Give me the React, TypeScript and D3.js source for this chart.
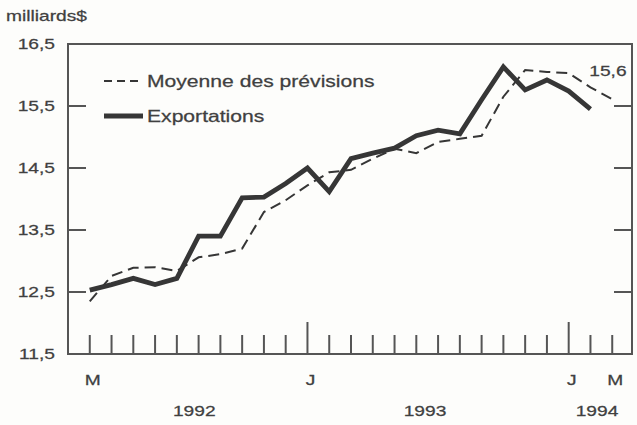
import React from "react";
import * as d3 from "d3";

// Month index 0 = March 1992 ... 24 = March 1994
const forecastAvg = [
  12.35, 12.76, 12.89, 12.9, 12.84, 13.06, 13.11, 13.2, 13.79, 13.98, 14.22,
  14.43, 14.47, 14.65, 14.81, 14.74, 14.92, 14.97, 15.02, 15.65, 16.08, 16.05,
  16.03, 15.8, 15.61,
];
const exports_ = [
  12.53, 12.62, 12.72, 12.62, 12.72, 13.4, 13.4, 14.02, 14.03, 14.25, 14.5,
  14.12, 14.65, 14.74, 14.82, 15.02, 15.11, 15.05, 15.6, 16.13, 15.76, 15.92,
  15.74, 15.45,
];
const yTicks = [16.5, 15.5, 14.5, 13.5, 12.5, 11.5];
const yTickLabels = ["16,5", "15,5", "14,5", "13,5", "12,5", "11,5"];
const innerYTicks = [15.5, 14.5, 13.5, 12.5];
const monthTickCount = 25;
const januaryIdx = [10, 22];
const monthLabels = [
  { i: 0, label: "M" },
  { i: 10, label: "J" },
  { i: 22, label: "J" },
  { i: 24, label: "M" },
];
const yearLabels = [
  { i: 4.8, label: "1992" },
  { i: 15.4, label: "1993" },
  { i: 23.3, label: "1994" },
];
const endLabel = { i: 23.8, v: 15.6, label: "15,6" };
const legendItems = ["Moyenne des prévisions", "Exportations"];
const unitLabel = "milliards$";

const W = 637;
const H = 425;
const L = 68, R = 632, T = 44, B = 354;
const SX = 1.28;
const FONT = "'Liberation Sans', Arial, Helvetica, sans-serif";
const INK = "#363636";
const TXT = "#404040";

function Txt({ x, y, anchor = "start", size = 15, children }: any) {
  return (
    <text
      transform={`translate(${x},${y}) scale(${SX},1)`}
      textAnchor={anchor}
      fontSize={size}
      fontFamily={FONT}
      fill={TXT}
      stroke={TXT}
      strokeWidth={0.25}
    >
      {children}
    </text>
  );
}

export default function App() {
  const x = d3.scaleLinear().domain([-1, 25]).range([L, 634]);
  const y = d3.scaleLinear().domain([11.5, 16.5]).range([B, T]);
  const line = d3
    .line<number>()
    .x((_, i) => x(i))
    .y((d) => y(d))
    .curve(d3.curveLinear);

  const months = d3.range(monthTickCount);

  return (
    <svg
      width={W}
      height={H}
      style={{ position: "absolute", left: 0, top: 0, background: "#fdfdfb" }}
    >
      <rect x={0} y={0} width={W} height={H} fill="#fdfdfb" />
      {/* frame */}
      <rect x={L} y={T} width={R - L} height={B - T} fill="none" stroke="#555" strokeWidth={2} />
      {/* inner y ticks both sides */}
      {innerYTicks.map((v) => (
        <g key={v}>
          <line x1={L} x2={L + 18} y1={y(v)} y2={y(v)} stroke="#555" strokeWidth={2} />
          <line x1={R - 18} x2={R} y1={y(v)} y2={y(v)} stroke="#555" strokeWidth={2} />
        </g>
      ))}
      {/* x ticks */}
      {months.map((i) => (
        <line
          key={i}
          x1={x(i)}
          x2={x(i)}
          y1={B}
          y2={B - (januaryIdx.includes(i) ? 32 : 19)}
          stroke="#555"
          strokeWidth={2}
        />
      ))}
      {/* y labels */}
      {yTicks.map((v, k) => (
        <Txt key={v} x={55} y={y(v) + 5} anchor="end" size={15}>
          {yTickLabels[k]}
        </Txt>
      ))}
      <Txt x={6} y={21} size={15}>
        {unitLabel}
      </Txt>
      {/* month labels */}
      {monthLabels.map((m, k) => (
        <Txt key={k} x={x(m.i) + 3} y={385} anchor="middle" size={15}>
          {m.label}
        </Txt>
      ))}
      {yearLabels.map((m) => (
        <Txt key={m.label} x={x(m.i)} y={416} anchor="middle" size={15}>
          {m.label}
        </Txt>
      ))}
      {/* series */}
      <path
        d={line(forecastAvg) || ""}
        fill="none"
        stroke={INK}
        strokeWidth={2}
        strokeDasharray="11 6"
      />
      <path
        d={line(exports_) || ""}
        fill="none"
        stroke={INK}
        strokeWidth={4.8}
        strokeLinejoin="miter"
      />
      <Txt x={x(endLabel.i)} y={y(endLabel.v) - 24} anchor="middle" size={15}>
        {endLabel.label}
      </Txt>
      {/* legend */}
      <line x1={104} x2={143} y1={81} y2={81} stroke={INK} strokeWidth={2.2} strokeDasharray="8 5" />
      <Txt x={147} y={87} size={16.5}>
        {legendItems[0]}
      </Txt>
      <line x1={104} x2={143} y1={116} y2={116} stroke={INK} strokeWidth={4.8} />
      <Txt x={147} y={122} size={16.5}>
        {legendItems[1]}
      </Txt>
    </svg>
  );
}
